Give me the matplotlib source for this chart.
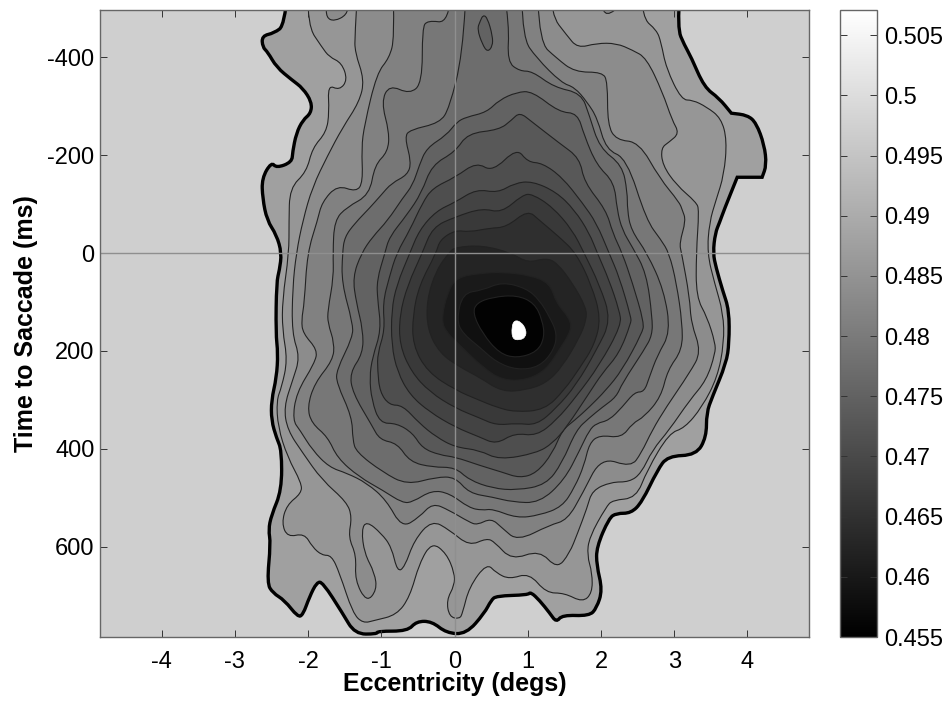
import numpy as np
import matplotlib
matplotlib.use("Agg")
import matplotlib.pyplot as plt
from matplotlib.path import Path
from matplotlib.patches import PathPatch
from matplotlib.cm import ScalarMappable
from matplotlib.colors import Normalize

plt.rcParams['font.family'] = ['Liberation Sans', 'DejaVu Sans']
plt.rcParams['axes.unicode_minus'] = False

# contour outlines: (eccentricity in degs, time in ms)
# outside value is the flat surround, edge is the thick outline of the measured region
surround_value = 0.4972
vmin = 0.455
vmax = 0.5071

edge = [(-2.24,-510),(-2.32,-466),(-2.46,-450),(-2.63,-444),(-2.62,-421),(-2.55,-411),(-2.43,-380),(-2.22,-354),
        (-2.07,-337),(-1.95,-309),(-1.96,-286),(-2.07,-272),(-2.16,-245),(-2.21,-207),(-2.22,-186),(-2.43,-174),
        (-2.50,-186),(-2.63,-153),(-2.62,-112),(-2.56,-67),(-2.43,-37),(-2.36,0),(-2.39,35),(-2.43,59),(-2.44,164),
        (-2.41,205),(-2.43,254),(-2.50,301),(-2.50,342),(-2.43,378),(-2.36,403),(-2.36,485),(-2.50,536),(-2.54,566),
        (-2.51,593),(-2.56,675),(-2.48,695),(-2.32,710),(-2.14,744),(-2.07,740),(-1.98,703),(-1.88,673),(-1.80,673),
        (-1.53,736),(-1.36,779),(-1.06,779),(-1.05,773),(-0.64,773),(-0.52,753),(-0.31,753),(-0.11,777),(0.16,779),
        (0.41,736),(0.50,710),(0.57,701),(1.00,699),(1.04,693),(1.16,710),(1.30,736),(1.39,755),(1.47,740),(1.84,742),
        (1.94,726),(2.02,689),(1.94,638),(1.94,601),(2.11,542),(2.21,532),(2.41,532),(2.56,509),(2.77,444),(2.91,415),
        (3.30,413),(3.44,376),(3.44,327),(3.52,294),(3.71,225),(3.75,184),(3.75,117),(3.66,76),(3.57,29),(3.53,0),
        (3.56,-41),(3.62,-63),(3.68,-88),(3.86,-155),(3.86,-155),(4.20,-155),(4.20,-155),(4.26,-180),(4.23,-221),(4.12,-266),(4.00,-282),
        (3.78,-286),(3.78,-286),(3.61,-317),(3.41,-339),(3.23,-401),(3.14,-425),(3.04,-460),(3.11,-510)]

contour_a = [(-1.99,-510),(-2.01,-466),(-1.81,-421),(-1.71,-401),(-1.54,-389),(-1.46,-354),(-1.57,-333),(-1.73,-344),
             (-1.71,-288),(-1.75,-247),(-1.94,-215),(-2.02,-166),(-2.25,-133),(-2.26,-63),(-2.26,0),(-2.35,96),(-2.35,157),
             (-2.28,219),(-2.36,274),(-2.43,301),(-2.41,356),(-2.28,417),(-2.09,470),(-2.09,491),(-2.29,515),(-2.36,552),
             (-2.28,581),(-2.05,573),(-1.94,601),(-1.81,618),(-1.68,618),(-1.57,654),(-1.39,736),(-1.25,757),(-1.09,751),
             (-0.79,740),(-0.61,703),(-0.48,634),(-0.31,591),(-0.11,614),(0,654),(0,679),(-0.11,710),(-0.07,744),(0.07,748),
             (0.11,736),(0.20,683),(0.44,634),(0.57,654),(0.75,667),(1.02,654),(1.25,695),(1.50,695),(1.75,714),(1.88,695),
             (1.88,654),(1.81,618),(1.84,581),(2.07,519),(2.16,505),(2.48,501),(2.63,444),(2.93,368),(3.14,358),(3.38,315),
             (3.59,254),(3.68,184),(3.67,123),(3.55,61),(3.45,0),(3.48,-63),(3.57,-108),(3.68,-160),(3.72,-231),(3.64,-276),
             (3.44,-299),(3.25,-313),(3.10,-313),(2.89,-378),(2.82,-431),(2.76,-456),(2.56,-481),(2.52,-510)]

contour_b = [(-1.30,-510),(-1.36,-446),(-1.36,-411),(-1.23,-354),(-1.30,-309),(-1.53,-256),(-1.73,-200),(-1.94,-135),
             (-2.07,-67),(-2.16,0),(-2.21,70),(-2.22,164),(-2.11,213),(-2.21,260),(-2.33,315),(-2.28,362),(-2.07,409),
             (-1.81,464),(-1.47,509),(-1.40,540),(-1.45,581),(-1.34,618),(-1.36,669),(-1.20,714),(-1.06,689),(-1.09,654),
             (-1.23,614),(-1.27,566),(-1.20,548),(-1.00,573),(-0.86,601),(-0.78,652),(-0.68,642),(-0.55,587),(-0.31,546),
             (-0.07,566),(0.20,599),(0.44,583),(0.55,591),(0.78,628),(1.16,607),(1.40,646),(1.57,614),(1.68,573),(1.81,521),
             (1.88,485),(2.14,468),(2.39,468),(2.55,450),(2.70,403),(2.93,362),(3.21,301),(3.44,260),(3.56,205),(3.56,184),
             (3.45,131),(3.30,90),(3.30,0),(3.34,-88),(3.30,-104),(3.03,-139),(2.84,-180),(2.82,-215),(2.93,-227),(3.07,-245),
             (2.97,-272),(2.84,-329),(2.62,-399),(2.43,-415),(2.21,-429),(1.94,-429),(1.68,-419),(1.53,-446),(1.32,-487),(1.30,-510)]

contour_c = [(-0.85,-510),(-0.82,-440),(-0.89,-399),(-1.06,-368),(-1.23,-262),(-1.27,-215),(-1.25,-145),(-1.34,-125),
             (-1.60,-139),(-1.81,-104),(-1.87,-67),(-2.01,0),(-2.05,102),(-2.09,137),(-2.07,164),(-1.87,198),(-1.91,225),
             (-2.16,286),(-2.21,342),(-2.11,362),(-1.94,403),(-1.71,438),(-1.47,450),(-1.20,470),(-0.93,505),(-0.72,562),
             (-0.48,540),(-0.30,511),(-0.07,526),(0.20,550),(0.31,556),(0.50,542),(0.65,562),(0.86,589),(1.30,556),(1.54,546),
             (1.75,491),(2.00,417),(2.41,438),(2.55,409),(2.70,362),(2.89,315),(3.21,245),(3.37,202),(3.23,143),(3.21,90),
             (3.10,0),(3.07,-20),(3.16,-67),(3.11,-88),(3.07,-104),(2.80,-153),(2.52,-227),(2.21,-231),(2.09,-262),(2.09,-350),
             (2.02,-370),(1.64,-370),(1.39,-399),(1.16,-431),(1.12,-510)]

contour_d = [(-0.03,-510),(-0.07,-470),(-0.37,-476),(-0.44,-460),(-0.44,-348),(-0.61,-325),(-0.89,-344),(-1.00,-309),
             (-0.89,-247),(-0.91,-207),(-1.09,-180),(-1.16,-119),(-1.47,-94),(-1.64,-67),(-1.66,0),(-1.65,49),(-1.73,117),
             (-1.73,143),(-1.64,184),(-1.66,219),(-1.91,266),(-2.01,315),(-1.95,348),(-1.73,376),(-1.60,419),(-1.30,458),
             (-0.98,485),(-0.71,511),(-0.57,509),(-0.31,485),(-0.07,491),(0.20,521),(0.38,526),(0.52,523),(0.85,542),(1.16,536),
             (1.47,519),(1.64,479),(1.77,434),(1.84,389),(1.98,372),(2.28,378),(2.43,348),(2.59,335),(2.82,294),(2.91,239),
             (3.11,198),(3.11,143),(3.03,61),(2.93,0),(2.82,-27),(2.62,-67),(2.35,-194),(2.07,-211),(1.95,-276),(1.81,-309),
             (1.64,-339),(1.46,-348),(1.12,-399),(0.93,-440),(0.91,-510)]

contour_e = [(-1.53,0),(-1.54,61),(-1.39,143),(-1.39,172),(-1.61,239),(-1.61,266),(-1.40,335),(-1.39,382),(-1.34,407),
             (-0.98,448),(-0.65,474),(-0.25,458),(0.01,458),(0.20,491),(0.52,499),(0.79,509),(1.16,511),(1.50,464),(1.71,403),
             (1.84,362),(1.94,348),(2.11,342),(2.29,315),(2.46,284),(2.59,284),(2.66,254),(2.77,209),(2.95,162),(2.86,76),
             (2.63,0),(2.41,-47),(2.36,-88),(2.36,-125),(2.29,-180),(1.98,-215),(1.84,-282),(1.73,-327),(1.36,-339),(1.06,-372),
             (0.89,-372),(0.72,-391),(0.75,-466),(0.61,-510),(0.18,-510),(0.11,-405),(-0.07,-297),(-0.20,-266),(-0.61,-252),
             (-0.68,-237),(-0.59,-186),(-0.64,-160),(-0.86,-143),(-1.00,-119),(-1.16,-92),(-1.36,-61),(-1.50,-33)]

contour_f = [(-1.27,0),(-1.39,49),(-1.34,102),(-1.25,157),(-1.25,205),(-1.43,245),(-1.39,286),(-1.13,352),(-1.02,382),
             (-0.78,389),(-0.61,427),(-0.30,438),(0.01,438),(0.20,464),(0.52,481),(0.85,485),(1.25,474),(1.47,429),(1.66,362),
             (1.84,337),(2.02,315),(2.21,294),(2.29,266),(2.59,198),(2.70,168),(2.70,131),(2.62,41),(2.43,-12),(2.29,-47),
             (2.22,-88),(2.18,-145),(1.94,-180),(1.77,-241),(1.68,-286),(1.43,-288),(1.06,-331),(0.85,-329),(0.61,-313),
             (0.44,-288),(0.16,-278),(0.03,-268),(-0.11,-241),(-0.38,-215),(-0.48,-180),(-0.57,-139),(-0.71,-112),(-0.91,-67),(-1.12,-33)]

contour_g = [(-0.95,0),(-1.06,55),(-1.05,96),(-1.00,157),(-1.12,213),(-1.16,254),(-1.13,301),(-1.02,348),(-0.79,348),
             (-0.57,368),(-0.44,399),(-0.20,413),(0.01,417),(0.34,434),(0.65,448),(0.89,460),(1.12,450),(1.34,409),(1.47,362),
             (1.64,342),(1.84,315),(2.07,280),(2.29,239),(2.56,164),(2.59,143),(2.43,61),(2.29,0),(2.16,-41),(2.07,-88),
             (1.77,-145),(1.71,-194),(1.43,-225),(1.06,-268),(0.89,-288),(0.78,-272),(0.61,-252),(0.18,-245),(0.01,-207),
             (-0.31,-180),(-0.45,-123),(-0.65,-78),(-0.89,-33)]

contour_h = [(-0.79,0),(-0.89,49),(-0.98,102),(-0.95,157),(-1.05,205),(-1.05,239),(-1.02,284),(-0.89,311),(-0.71,311),
             (-0.48,348),(-0.25,376),(0.01,397),(0.34,403),(0.61,423),(1.12,409),(1.34,389),(1.53,356),(1.84,286),(2.02,245),
             (2.25,205),(2.41,143),(2.41,131),(2.25,49),(2.11,0),(1.94,-61),(1.75,-102),(1.47,-155),(1.20,-184),(1.00,-186),
             (0.85,-215),(0.52,-166),(0.30,-186),(0.01,-155),(-0.30,-133),(-0.44,-102),(-0.61,-47)]

contour_i = [(-0.61,0),(-0.79,65),(-0.86,117),(-0.86,188),(-0.78,243),(-0.61,290),(-0.34,325),(0.01,356),(0.34,376),
             (0.57,391),(0.82,368),(1.12,374),(1.39,342),(1.66,294),(1.98,229),(2.28,147),(2.25,117),(2.11,55),(1.95,0),
             (1.84,-41),(1.64,-88),(1.39,-125),(1.06,-147),(0.82,-143),(0.59,-123),(0.30,-131),(0.01,-104),(-0.25,-86),(-0.48,-47)]

contour_j = [(-0.44,0),(-0.64,65),(-0.75,127),(-0.75,188),(-0.59,243),(-0.34,284),(0.01,317),(0.34,337),(0.57,352),
             (0.85,348),(1.12,352),(1.39,317),(1.66,270),(1.94,198),(2.14,137),(1.98,65),(1.77,0),(1.61,-47),(1.34,-94),
             (1.06,-121),(0.93,-119),(0.64,-82),(0.38,-92),(0.01,-74),(-0.30,-53)]

contour_k = [(-0.25,0),(-0.48,65),(-0.57,127),(-0.57,188),(-0.37,243),(0.01,280),(0.34,301),(0.57,315),(0.82,325),
             (1.23,321),(1.50,280),(1.71,235),(1.91,188),(2.00,133),(1.87,65),(1.66,0),(1.43,-33),(1.16,-67),(1.00,-88),
             (0.71,-53),(0.48,-51),(0.20,-43),(0.01,-47),(-0.20,-27)]

contour_l = [(-0.07,-2),(-0.25,35),(-0.38,96),(-0.37,157),(-0.20,205),(0.07,233),(0.34,254),(0.65,284),(0.98,280),
             (1.25,266),(1.47,233),(1.71,172),(1.80,137),(1.80,112),(1.61,61),(1.40,20),(1.25,10),(1.00,20),(0.78,0),
             (0.38,-16),(0.01,-12)]

contour_m = [(-0.18,137),(-0.10,82),(0.03,49),(0.38,41),(0.65,39),(1.02,45),(1.30,61),(1.39,102),(1.57,133),(1.60,157),
             (1.43,198),(1.25,239),(0.98,260),(0.65,260),(0.38,233),(0.07,188),(-0.11,162)]

contour_n = [(0.03,137),(0.11,82),(0.38,76),(0.65,59),(0.98,72),(1.16,96),(1.30,131),(1.40,164),(1.36,198),(1.16,233),
             (0.85,239),(0.57,223),(0.34,192),(0.11,164)]

contour_o = [(0.25,123),(0.30,102),(0.52,90),(0.85,86),(1.09,102),(1.20,137),(1.23,172),(1.13,202),(0.85,215),(0.61,205),(0.38,164)]

# small closed pieces
island_left = [(-1.75,-510),(-1.75,-481),(-1.64,-474),(-1.47,-487),(-1.45,-510)]
island_right = [(2.00,-510),(2.07,-483),(2.30,-510)]
island_top = [(0.35,-474),(0.39,-487),(0.45,-481),(0.52,-444),(0.52,-423),(0.45,-411),(0.38,-427),(0.31,-458)]
peak = [(0.78,151),(0.82,137),(0.91,141),(0.98,157),(0.97,172),(0.89,178),(0.79,176)]

contours = [contour_a, contour_b, contour_c, contour_d, contour_e, contour_f, contour_g, contour_h,
            contour_i, contour_j, contour_k, contour_l, contour_m, contour_n, contour_o]
band_values = [0.4877, 0.4856, 0.4835, 0.4814, 0.4793, 0.4772, 0.4751, 0.4730,
               0.4709, 0.4688, 0.4667, 0.4646, 0.4625, 0.4604, 0.4583, 0.4555]
peak_value = 0.5071

x_ticks = [-4, -3, -2, -1, 0, 1, 2, 3, 4]
y_ticks = [-400, -200, 0, 200, 400, 600]
cbar_ticks = [0.455, 0.46, 0.465, 0.47, 0.475, 0.48, 0.485, 0.49, 0.495, 0.5, 0.505]
cbar_labels = ['0.455', '0.46', '0.465', '0.47', '0.475', '0.48', '0.485', '0.49', '0.495', '0.5', '0.505']


def smooth_path(pts, open_top=False):
    # closed quadratic curve, read points are the control points
    pts = np.array(pts, dtype=float)
    if open_top:
        # outlines that run off the top edge: close them well above the axes
        pts[pts[:, 1] == -510, 1] = -600
    mids = (pts + np.roll(pts, -1, axis=0)) / 2
    verts = [mids[-1]]
    codes = [Path.MOVETO]
    for i in range(len(pts)):
        verts += [pts[i], mids[i]]
        codes += [Path.CURVE3, Path.CURVE3]
    return Path(verts, codes)


cmap = plt.get_cmap('gray')
norm = Normalize(vmin, vmax)

fig = plt.figure(figsize=(9.47, 7.02), dpi=100)
ax = fig.add_axes([100 / 947, 1 - 637 / 702, 709 / 947, 627 / 702])
ax.set_facecolor(cmap(norm(surround_value)))

ax.add_patch(PathPatch(smooth_path(edge, True), facecolor=cmap(norm(band_values[0])), edgecolor='black', linewidth=2.4, zorder=1))

z = 2
for c, value in zip(contours, band_values[1:]):
    ax.add_patch(PathPatch(smooth_path(c, True), facecolor=cmap(norm(value)), edgecolor='#222222', linewidth=0.8, zorder=z))
    z += 1
    if c is contour_a:
        for piece in (island_left, island_right):
            ax.add_patch(PathPatch(smooth_path(piece), facecolor=cmap(norm(band_values[2])), edgecolor='#222222',
                                   linewidth=0.8, zorder=z))
        z += 1
    if c is contour_e:
        ax.add_patch(PathPatch(smooth_path(island_top), facecolor=cmap(norm(band_values[6])), edgecolor='#222222',
                               linewidth=0.8, zorder=z + 1))

ax.add_patch(PathPatch(smooth_path(peak), facecolor=cmap(norm(peak_value)), edgecolor='white', linewidth=0.5, zorder=50))

ax.axhline(0, color='#8f8f8f', linewidth=1, zorder=60)
ax.axvline(0, color='#8f8f8f', linewidth=1, zorder=60)

ax.set_xlim(-4.84, 4.84)
ax.set_ylim(785, -497)
ax.set_xticks(x_ticks)
ax.set_yticks(y_ticks)
ax.tick_params(direction='in', top=True, right=True, length=5, width=0.7, color='#333333', labelsize=17)
ax.tick_params(axis='x', pad=10)
ax.tick_params(axis='y', pad=4)
for s in ax.spines.values():
    s.set_color('#666666')
    s.set_linewidth(1.0)
    s.set_zorder(70)

fig.text(454.5 / 947, 1 - 684 / 702, 'Eccentricity (degs)', fontsize=18, fontweight='bold', ha='center', va='center')
fig.text(26 / 947, 1 - 324 / 702, 'Time to Saccade (ms)', fontsize=18, fontweight='bold', rotation=90, ha='center', va='center')

cax = fig.add_axes([840 / 947, 1 - 637 / 702, 37 / 947, 627 / 702])
cb = fig.colorbar(ScalarMappable(norm=norm, cmap=cmap), cax=cax)
cb.set_ticks(cbar_ticks)
cb.set_ticklabels(cbar_labels)
cax.tick_params(direction='in', left=True, right=True, length=5, width=0.7, color='#333333', labelsize=17, pad=5)
cb.outline.set_edgecolor('#666666')
cb.outline.set_linewidth(1.0)

fig.savefig('out.png', dpi=100)
